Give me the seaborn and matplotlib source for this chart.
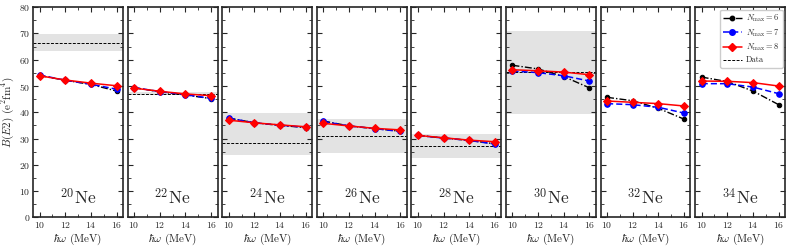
import numpy as np
import pandas as pd
import matplotlib
matplotlib.use("Agg")
import matplotlib.pyplot as plt
import seaborn as sns
from matplotlib.lines import Line2D

sns.set_style("ticks")
plt.rcParams['font.family'] = ['cmr10', 'DejaVu Serif']
plt.rcParams['mathtext.fontset'] = 'cm'
plt.rcParams['axes.formatter.use_mathtext'] = True

hw = [10, 12, 14, 16]
nuclei = ["20", "22", "24", "26", "28", "30", "32", "34"]
nmax6 = [[54.0, 52.2, 50.6, 48.1], [49.4, 47.8, 46.6, 45.2], [37.8, 36.0, 35.0, 34.2],
         [36.7, 34.8, 33.8, 32.8], [31.2, 30.2, 29.3, 28.0], [57.9, 56.5, 53.6, 49.3],
         [45.7, 44.4, 41.5, 37.4], [53.4, 51.7, 48.1, 42.9]]
nmax7 = [[54.2, 52.2, 50.7, 48.8], [49.4, 47.9, 46.7, 45.3], [37.8, 36.0, 35.1, 34.3],
         [36.5, 34.8, 33.8, 32.7], [31.2, 30.2, 29.3, 27.9], [55.7, 55.1, 53.9, 51.9],
         [43.3, 42.9, 41.9, 39.7], [50.9, 50.9, 49.6, 47.1]]
nmax8 = [[53.9, 52.3, 51.1, 50.1], [49.2, 48.0, 47.0, 46.3], [37.0, 36.0, 35.2, 34.5],
         [35.8, 34.8, 33.9, 33.3], [31.2, 30.3, 29.4, 28.8], [56.2, 55.8, 55.3, 54.3],
         [44.3, 43.8, 43.3, 42.4], [51.9, 51.8, 51.3, 50.0]]
data_val = [66.5, 47.0, 28.5, 30.9, 27.2, 55.2, None, None]
data_lo = [63.3, 46.4, 23.7, 24.5, 22.5, 39.5, None, None]
data_hi = [69.7, 47.6, 39.7, 37.4, 31.7, 70.9, None, None]

rows = []
for i, nuc in enumerate(nuclei):
    for lab, arr in (("6", nmax6), ("7", nmax7), ("8", nmax8)):
        for x, y in zip(hw, arr[i]):
            rows.append({"nuc": nuc, "nmax": lab, "hw": x, "BE2": y})
df = pd.DataFrame(rows)

styles = {
    "6": dict(color="black", linestyle=(0, (5, 1.5, 1, 1.5)), marker="o", markersize=3.2, lw=1.0,
              label=r"$N_{\rm max}=6$"),
    "7": dict(color="#0000ff", linestyle=(0, (4, 2)), marker="o", markersize=4.0, lw=1.1,
              label=r"$N_{\rm max}=7$"),
    "8": dict(color="#ff0000", linestyle="-", marker="D", markersize=4.3, lw=1.1,
              label=r"$N_{\rm max}=8$"),
}

fig, axes = plt.subplots(1, 8, figsize=(7.89, 2.49), dpi=100, sharey=True)
fig.subplots_adjust(left=0.042, right=0.995, top=0.971, bottom=0.127, wspace=0.053)

for i, ax in enumerate(axes):
    sub = df[df.nuc == nuclei[i]]
    if data_val[i] is not None:
        ax.axhspan(data_lo[i], data_hi[i], color="#e3e3e3", lw=0, zorder=0)
        ax.axhline(data_val[i], color="black", ls=(0, (3, 1.5)), lw=0.7, zorder=1)
    for lab in ("6", "7", "8"):
        s = styles[lab]
        sns.lineplot(data=sub[sub.nmax == lab], x="hw", y="BE2", ax=ax, color=s["color"],
                     linestyle=s["linestyle"], marker=s["marker"], markersize=s["markersize"],
                     lw=s["lw"], markeredgecolor=s["color"], legend=False, zorder=3)
    ax.set_xlim(9.5, 16.5)
    ax.set_ylim(0, 80)
    ax.set_xticks([10, 12, 14, 16])
    ax.set_xticks(np.arange(10, 17, 1), minor=True)
    ax.set_yticks(np.arange(0, 81, 10))
    ax.set_yticks(np.arange(0, 81, 5), minor=True)
    ax.tick_params(which="both", direction="in", top=True, right=True, labelsize=7, pad=2)
    ax.tick_params(which="major", length=3.5, width=0.8)
    ax.tick_params(which="minor", length=2, width=0.6)
    for sp in ax.spines.values():
        sp.set_linewidth(1.2)
    ax.set_xlabel(r"$\hbar\omega$ (MeV)", fontsize=8, labelpad=1)
    ax.set_ylabel("")
    ax.text(13, 7.5, r"$^{%s}$Ne" % nuclei[i], ha="center", va="center", fontsize=12.5)
    if i > 0:
        ax.tick_params(labelleft=False)

axes[0].set_ylabel(r"$B(E2)$ (e$^2$fm$^4$)", fontsize=8, labelpad=2)

handles = [Line2D([], [], color=styles[k]["color"], ls=styles[k]["linestyle"], marker=styles[k]["marker"],
                  markersize=styles[k]["markersize"], lw=styles[k]["lw"], label=styles[k]["label"])
           for k in ("6", "7", "8")]
handles.append(Line2D([], [], color="black", ls=(0, (3, 1.5)), lw=0.7, label="Data"))
axes[-1].legend(handles=handles, loc="upper right", fontsize=6, handlelength=2.2,
                borderpad=0.4, labelspacing=0.35, handletextpad=0.5, framealpha=1,
                edgecolor="#cccccc", fancybox=True, borderaxespad=0.3)

fig.savefig("out.png", dpi=100)
